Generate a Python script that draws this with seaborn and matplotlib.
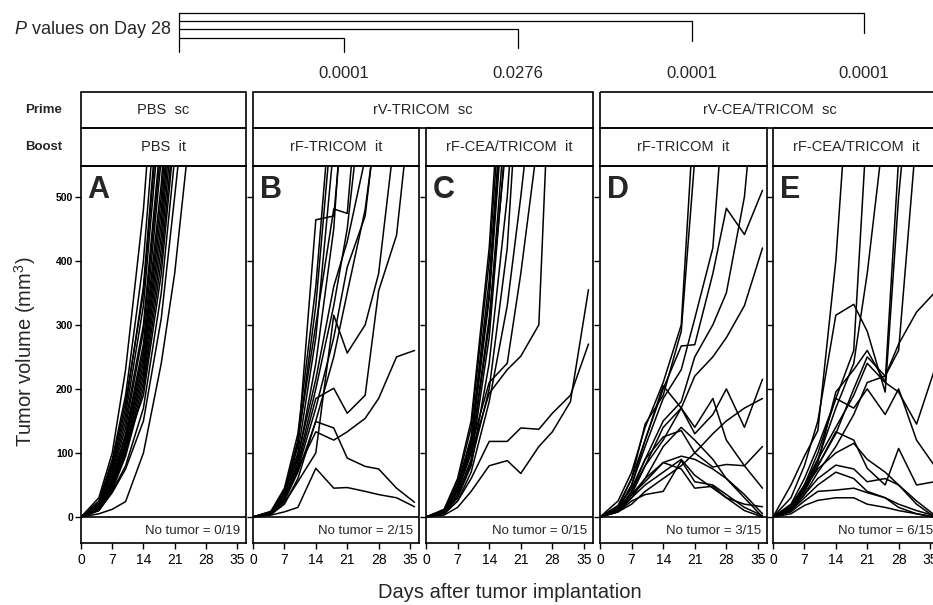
import numpy as np
import pandas as pd
import matplotlib
matplotlib.use("Agg")
import matplotlib.pyplot as plt
from matplotlib.patches import Rectangle
import seaborn as sns

# measurement days (same for every mouse)
days = [0, 4, 7, 10, 14, 18, 21, 25, 28, 32, 36]

panel_letters = ["A", "B", "C", "D", "E"]
prime_labels = ["PBS  sc", "rV-TRICOM  sc", "rV-CEA/TRICOM  sc"]
prime_groups = [[0], [1, 2], [3, 4]]
boost_labels = ["PBS  it", "rF-TRICOM  it", "rF-CEA/TRICOM  it",
                "rF-TRICOM  it", "rF-CEA/TRICOM  it"]
no_tumor = ["No tumor = 0/19", "No tumor = 2/15", "No tumor = 0/15",
            "No tumor = 3/15", "No tumor = 6/15"]
p_values = ["0.0001", "0.0276", "0.0001", "0.0001"]

# tumor volumes (mm3) per mouse; curves stop once off scale
curves_A = [
    [0, 30, 100, 230, 480, 850],
    [0, 25, 90, 190, 400, 750],
    [0, 22, 80, 170, 360, 700],
    [0, 20, 75, 160, 330, 650],
    [0, 18, 70, 150, 300, 600],
    [0, 18, 65, 140, 290, 580],
    [0, 16, 60, 130, 270, 560],
    [0, 15, 58, 125, 260, 520, 800],
    [0, 15, 55, 120, 250, 500, 760],
    [0, 14, 52, 115, 240, 480, 720],
    [0, 13, 50, 110, 230, 460, 700],
    [0, 12, 48, 105, 220, 440, 680],
    [0, 12, 45, 100, 210, 420, 650],
    [0, 11, 42, 95, 200, 400, 620],
    [0, 5, 12, 24, 100, 240, 380, 640],
    [0, 10, 40, 80, 170, 350, 560],
    [0, 10, 38, 75, 150, 310, 500, 760],
    [0, 20, 85, 180, 350, 680],
    [0, 14, 55, 110, 190, 380, 600],
]
curves_B = [
    [0, 3, 8, 15, 76, 45, 46, 40, 35, 30, 16],
    [0, 5, 25, 70, 149, 139, 92, 79, 75, 45, 23],
    [0, 6, 30, 75, 133, 120, 133, 154, 185, 250, 260],
    [0, 6, 30, 80, 185, 201, 162, 190, 353, 440, 700],
    [0, 5, 22, 55, 100, 315, 256, 300, 380, 620],
    [0, 8, 35, 95, 215, 360, 430, 560],
    [0, 6, 35, 110, 464, 470, 700],
    [0, 7, 40, 120, 300, 481, 474, 800],
    [0, 8, 42, 115, 330, 650],
    [0, 9, 45, 130, 360, 700],
    [0, 7, 38, 100, 280, 580],
    [0, 6, 30, 85, 200, 330, 450, 700],
    [0, 5, 28, 75, 170, 280, 390, 470, 650],
    [0, 7, 36, 90, 240, 450, 760],
    [0, 4, 20, 60, 150, 250, 350, 480, 640],
]
curves_C = [
    [0, 5, 25, 60, 118, 118, 139, 137, 162, 190, 270],
    [0, 3, 15, 40, 80, 88, 68, 110, 133, 180, 355],
    [0, 8, 40, 100, 193, 230, 251, 300, 800],
    [0, 8, 45, 110, 210, 240, 380, 600],
    [0, 12, 60, 150, 420, 850],
    [0, 10, 55, 140, 400, 800],
    [0, 11, 50, 125, 370, 760],
    [0, 9, 45, 115, 340, 720],
    [0, 10, 48, 120, 350, 740],
    [0, 8, 40, 100, 300, 660],
    [0, 7, 35, 90, 280, 620],
    [0, 9, 42, 105, 310, 600],
    [0, 6, 30, 80, 240, 500, 800],
    [0, 7, 32, 85, 200, 420, 750],
    [0, 5, 25, 70, 180, 330, 500, 750],
]
curves_D = [
    [0, 25, 70, 140, 210, 300, 650],
    [0, 15, 60, 145, 190, 290, 560],
    [0, 12, 50, 120, 200, 267, 269, 380, 482, 441, 510],
    [0, 12, 50, 110, 185, 230, 310, 420, 700],
    [0, 10, 40, 90, 150, 180, 250, 300, 350, 500, 800],
    [0, 10, 35, 80, 120, 170, 220, 250, 280, 330, 420],
    [0, 10, 40, 80, 140, 170, 130, 160, 200, 140, 215],
    [0, 18, 60, 120, 205, 170, 140, 185, 120, 80, 45],
    [0, 15, 45, 90, 125, 135, 100, 78, 82, 80, 110],
    [0, 8, 30, 60, 85, 75, 45, 48, 30, 20, 16],
    [0, 10, 35, 55, 85, 95, 90, 75, 60, 35, 5],
    [0, 8, 25, 35, 40, 88, 55, 50, 35, 15, 2],
    [0, 10, 30, 50, 70, 90, 65, 45, 30, 10, 0],
    [0, 12, 35, 60, 110, 140, 120, 90, 60, 30, 0],
    [0, 8, 20, 40, 60, 80, 100, 130, 150, 170, 185],
]
curves_E = [
    [0, 50, 95, 135, 400, 800],
    [0, 30, 80, 150, 315, 332, 290, 195, 500, 800],
    [0, 20, 60, 110, 185, 260, 620],
    [0, 18, 50, 90, 170, 240, 380, 620],
    [0, 15, 45, 85, 195, 230, 260, 210, 560],
    [0, 12, 40, 80, 130, 200, 250, 220, 260, 600],
    [0, 12, 45, 90, 140, 190, 240, 210, 195, 145, 230],
    [0, 10, 35, 70, 110, 160, 210, 220, 270, 320, 350],
    [0, 15, 50, 100, 185, 170, 200, 160, 200, 120, 80],
    [0, 12, 40, 80, 133, 120, 76, 50, 107, 50, 55],
    [0, 10, 35, 60, 81, 75, 55, 60, 50, 25, 3],
    [0, 8, 25, 40, 42, 45, 38, 30, 20, 10, 2],
    [0, 5, 18, 26, 30, 30, 20, 15, 10, 5, 0],
    [0, 10, 30, 50, 70, 60, 40, 30, 15, 5, 0],
    [0, 15, 45, 75, 100, 115, 90, 70, 50, 20, 0],
]
all_curves = [curves_A, curves_B, curves_C, curves_D, curves_E]

rows = []
for letter, curves in zip(panel_letters, all_curves):
    for m, vals in enumerate(curves):
        for d, v in zip(days, vals):
            rows.append({"panel": letter, "mouse": m, "day": d, "volume": v})
df = pd.DataFrame(rows)

sns.set_style("ticks")
plt.rcParams["font.family"] = ["Liberation Sans", "DejaVu Sans"]
plt.rcParams["mathtext.fontset"] = "custom"
plt.rcParams["mathtext.rm"] = "Liberation Sans"
plt.rcParams["mathtext.it"] = "Liberation Sans:italic"

W, H = 933, 605
fig = plt.figure(figsize=(W / 100, H / 100), dpi=100)

# panel layout in pixels
panel_px = [(81, 246), (253, 419), (426, 593), (600, 767), (773, 939)]
ax_top, ax_bot = 166, 543
boost_top, prime_top = 128, 92

def fx(px):
    return px / W

def fy(py):
    return 1 - py / H

axes = []
for i, (x0, x1) in enumerate(panel_px):
    ax = fig.add_axes([fx(x0), fy(ax_bot), fx(x1 - x0), (ax_bot - ax_top) / H])
    sub = df[df["panel"] == panel_letters[i]]
    sns.lineplot(data=sub, x="day", y="volume", units="mouse", estimator=None,
                 color="black", lw=1.1, ax=ax, legend=False)
    ax.axhline(0, color="black", lw=1.2)
    ax.set_xlim(0, 37)
    ax.set_ylim(-40.6, 548)
    ax.set_xticks(range(0, 36, 7))
    ax.set_yticks(range(0, 501, 100))
    ax.set_xlabel("")
    ax.set_ylabel("")
    for s in ax.spines.values():
        s.set_linewidth(1.2)
        s.set_color("black")
        s.set_visible(True)
    ax.tick_params(axis="x", direction="out", length=4, width=1, pad=3,
                   labelsize=10, colors="black")
    ax.tick_params(axis="y", direction="out", length=4, width=1, pad=1.5,
                   labelsize=7.5, colors="black")
    if i == 0:
        for t in ax.get_yticklabels():
            t.set_fontweight("bold")
    else:
        ax.set_yticklabels([])
    ax.text(0.04, 0.975, panel_letters[i], transform=ax.transAxes,
            fontsize=22, fontweight="bold", ha="left", va="top")
    ax.text(0.964, -22, no_tumor[i], transform=ax.get_yaxis_transform(),
            fontsize=9.5, ha="right", va="center")
    axes.append(ax)

# overlay in pixel coordinates for headers and the P-value bracket
ov = fig.add_axes([0, 0, 1, 1], zorder=5)
ov.set_xlim(0, W)
ov.set_ylim(H, 0)
ov.axis("off")
ov.patch.set_alpha(0)

for i, (x0, x1) in enumerate(panel_px):
    ov.add_patch(Rectangle((x0, boost_top), x1 - x0, ax_top - boost_top,
                           fill=False, lw=1.2, ec="black"))
    ov.text((x0 + x1) / 2, (boost_top + ax_top) / 2, boost_labels[i],
            fontsize=10.5, ha="center", va="center")
for lab, grp in zip(prime_labels, prime_groups):
    x0 = panel_px[grp[0]][0]
    x1 = panel_px[grp[-1]][1]
    ov.add_patch(Rectangle((x0, prime_top), x1 - x0, boost_top - prime_top,
                           fill=False, lw=1.2, ec="black"))
    ov.text((x0 + x1) / 2, (prime_top + boost_top) / 2, lab,
            fontsize=10.5, ha="center", va="center")

ov.text(44, (prime_top + boost_top) / 2, "Prime", fontsize=9.5,
        fontweight="bold", ha="center", va="center")
ov.text(44, (boost_top + ax_top) / 2, "Boost", fontsize=9.5,
        fontweight="bold", ha="center", va="center")

# bracket: comparisons of B..E against A
bx0 = 179
h_levels = [38, 29, 21, 13]
v_ends = [52, 48, 41, 33]
ov.plot([bx0, bx0], [min(h_levels), max(v_ends)], color="black", lw=0.9)
for k, pv in enumerate(p_values):
    x0, x1 = panel_px[k + 1]
    xc = (x0 + x1) / 2 + 8
    ov.plot([bx0, xc, xc], [h_levels[k], h_levels[k], v_ends[k]],
            color="black", lw=0.9)
    ov.text(xc, 73, pv, fontsize=12, ha="center", va="center")
ov.text(171, 30, r"$\mathit{P}$ values on Day 28", fontsize=13,
        ha="right", va="center")

ov.text(25, 352, "Tumor volume (mm$^3$)", fontsize=14.5, rotation=90,
        ha="center", va="center")
ov.text((panel_px[0][0] + panel_px[-1][1]) / 2, 593,
        "Days after tumor implantation", fontsize=14.5,
        ha="center", va="center")

fig.savefig("out.png", dpi=100)
